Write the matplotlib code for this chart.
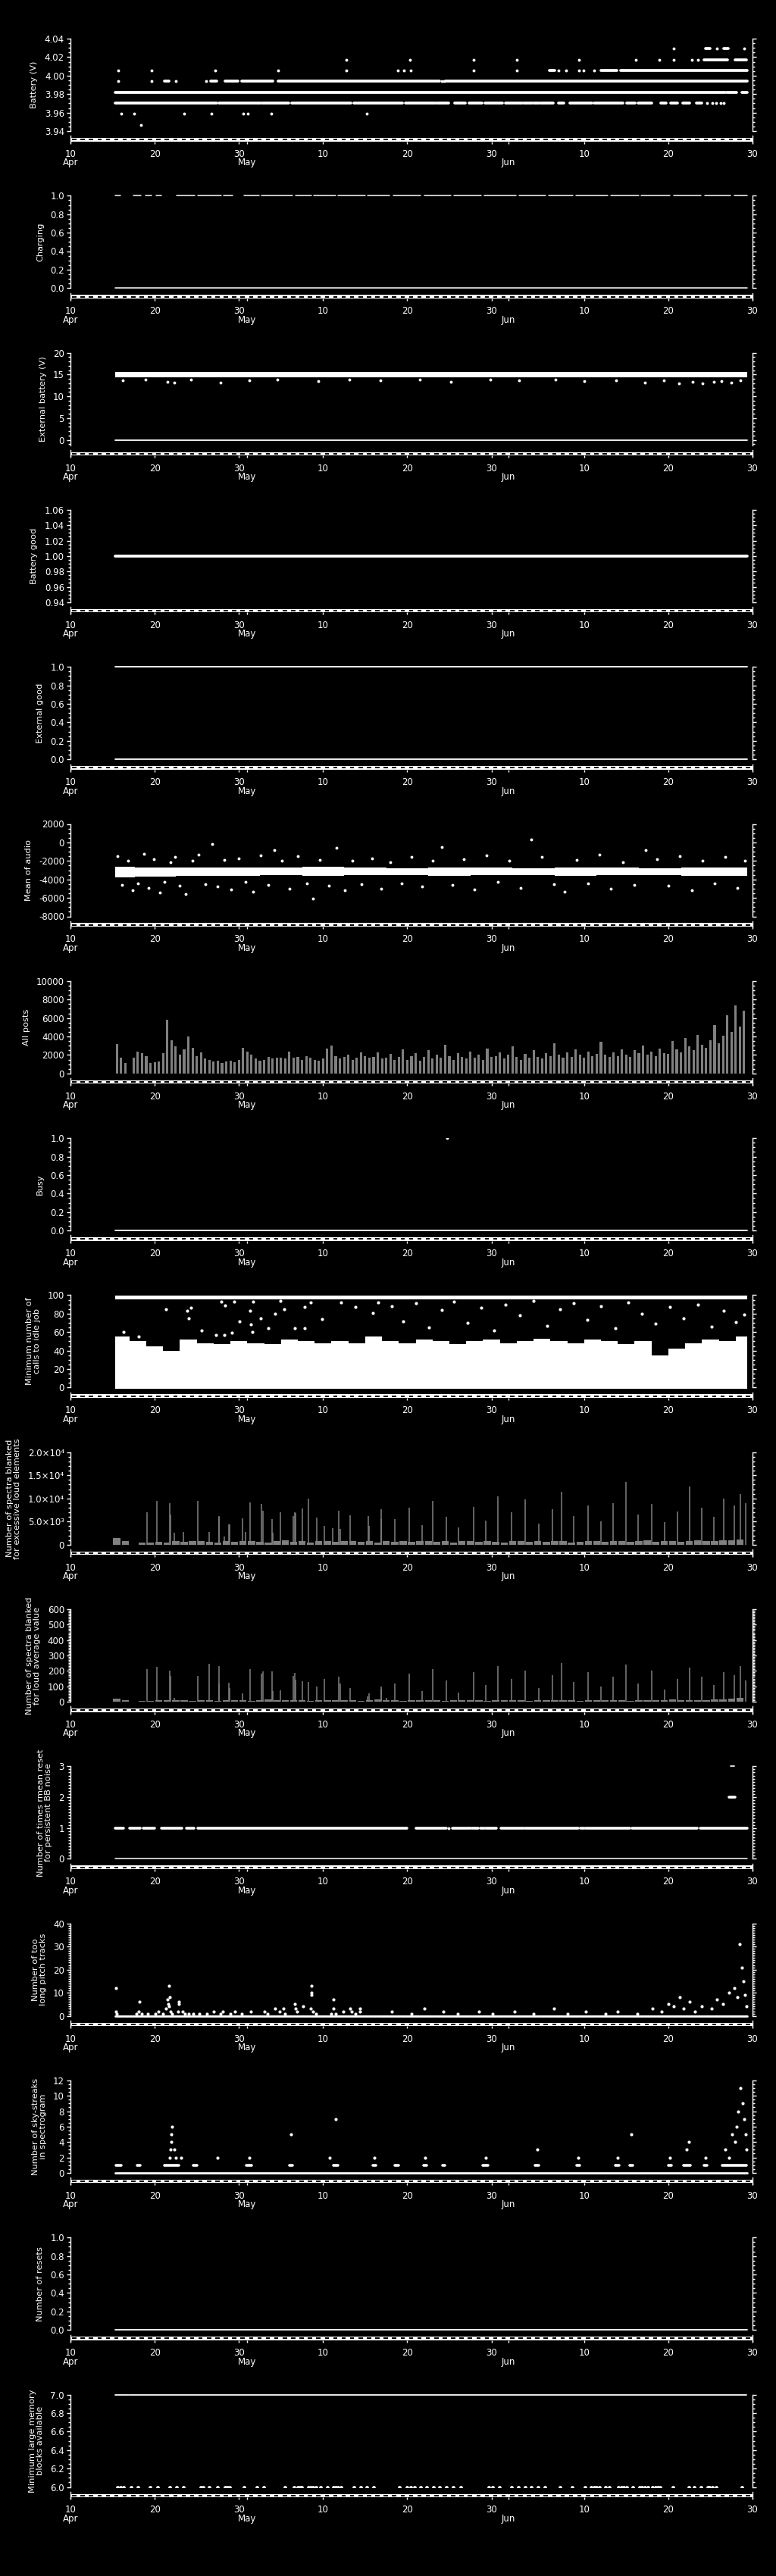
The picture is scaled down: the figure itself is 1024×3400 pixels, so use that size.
import matplotlib
matplotlib.use('Agg')
import matplotlib.pyplot as plt
import matplotlib.patches as patches
from matplotlib.ticker import AutoMinorLocator, FixedLocator, FixedFormatter, FormatStrFormatter

plt.rcParams['font.family'] = ['DejaVu Sans']

# time axis: days since 10 Apr (10 Apr .. 30 Jun)
date_ticks = [0, 10, 20, 21, 30, 40, 50, 52, 61, 71, 81]
date_labels = ['10', '20', '30', '', '10', '20', '30', '', '10', '20', '30']
month_days = [0, 21, 52]
month_names = ['Apr', 'May', 'Jun']
n_days = 81
data_span = [(5.28, 80.4)]

# ---- Battery (V): quantised levels, runs of samples and isolated samples
batt_3947_pts = [8.34]
batt_3959_pts = [6.03, 7.53, 13.47, 16.71, 20.52, 21.06, 23.82, 35.2]
batt_3970_runs = [(5.28, 17.37), (17.61, 22.59), (22.77, 25.92), (26.28, 33.33), (33.63, 39.45),
                  (39.81, 43.35), (43.59, 44.91), (45.66, 46.92), (47.37, 48.9), (49.2, 51.27),
                  (51.69, 53.61), (53.85, 54.84), (55.02, 55.71), (55.92, 57.36), (57.99, 58.62),
                  (59.31, 61.89), (62.16, 65.61), (66.06, 67.02), (67.41, 69.0), (70.11, 70.71),
                  (71.31, 72.12), (72.75, 73.5), (74.31, 75.0)]
batt_3970_pts = [75.6, 76.2, 76.7, 77.2, 77.6]
batt_3982_runs = [(5.28, 77.76), (77.9, 79.1), (79.7, 80.4)]
batt_3994_runs = [(11.19, 11.67), (16.62, 17.34), (18.33, 19.89), (20.37, 24.03), (24.63, 43.86),
                  (44.55, 80.4)]
batt_3994_pts = [5.7, 9.66, 12.48, 16.14, 44.07, 44.37]
batt_4006_runs = [(56.85, 57.51), (62.97, 64.9), (65.3, 80.4)]
batt_4006_pts = [5.64, 9.66, 17.22, 24.69, 32.79, 38.85, 39.6, 40.41, 47.91, 53.04, 57.93, 58.83,
                 60.36, 60.96, 62.16]
batt_4017_runs = [(75.21, 78.06), (78.96, 80.31)]
batt_4017_pts = [32.79, 40.35, 47.91, 52.98, 60.36, 67.17, 69.93, 71.67, 73.83, 74.49]
batt_4029_runs = [(75.45, 75.96), (77.61, 78.15)]
batt_4029_pts = [71.64, 76.74, 80.04]

# ---- Charging
charging_on = [(5.3, 5.9), (7.5, 8.4), (8.9, 9.6), (10.2, 10.8), (12.6, 14.8), (15.1, 17.9),
               (18.2, 19.3), (20.6, 22.4), (22.7, 26.4), (26.7, 28.6), (28.9, 31.5), (31.8, 35.0),
               (35.3, 37.9), (38.3, 41.6), (42.0, 45.2), (45.5, 48.8), (49.1, 52.9), (53.3, 56.4),
               (56.8, 59.7), (60.0, 63.8), (64.2, 67.5), (67.8, 71.2), (71.6, 74.9), (75.3, 78.4),
               (78.8, 80.4)]

# ---- External battery (V)
ext_band = (14.4, 15.6)
ext_low_days = [6.2, 8.9, 11.5, 12.3, 14.3, 17.8, 21.2, 24.6, 29.4, 33.1, 36.8, 41.5, 45.2, 49.9,
                53.3, 57.6, 61.0, 64.8, 68.2, 70.5, 72.3, 73.9, 75.1, 76.4, 77.3, 78.5, 79.6]
ext_low_vals = [13.6, 13.9, 13.4, 13.1, 13.8, 13.2, 13.7, 13.9, 13.5, 13.8, 13.6, 13.9, 13.4, 13.8,
                13.6, 13.9, 13.5, 13.7, 13.2, 13.6, 13.0, 13.4, 12.9, 13.3, 13.5, 13.1, 13.6]

# ---- Mean of audio
audio_band_days = [5.3, 10, 15, 20, 25, 30, 35, 40, 45, 50, 55, 60, 65, 70, 75, 80.4]
audio_band_lo = [-3800, -3700, -3600, -3600, -3500, -3600, -3500, -3500, -3600, -3500, -3500,
                 -3600, -3500, -3500, -3600, -3600]
audio_band_hi = [-2600, -2700, -2700, -2700, -2700, -2600, -2700, -2800, -2700, -2700, -2800,
                 -2700, -2700, -2800, -2700, -2700]
audio_out_days = [5.6, 6.1, 6.8, 7.4, 8.0, 8.7, 9.3, 9.9, 10.6, 11.2, 11.9, 12.4, 13.0, 13.7, 14.5,
                  15.2, 16.0, 16.8, 17.5, 18.3, 19.1, 20.0, 20.8, 21.7, 22.6, 23.5, 24.2, 25.1,
                  26.0, 27.0, 28.1, 28.8, 29.6, 30.7, 31.6, 32.6, 33.5, 34.6, 35.8, 36.9, 38.0,
                  39.3, 40.5, 41.8, 43.0, 44.1, 45.4, 46.7, 48.0, 49.4, 50.8, 52.1, 53.5, 54.7,
                  56.0, 57.4, 58.7, 60.1, 61.5, 62.8, 64.2, 65.6, 67.0, 68.3, 69.7, 71.0, 72.4,
                  73.8, 75.1, 76.5, 77.8, 79.2, 80.1]
audio_out_vals = [-1500, -4600, -2000, -5200, -4400, -1200, -4900, -1800, -5400, -4300, -2100,
                  -1600, -4700, -5600, -2000, -1300, -4500, -200, -4800, -1900, -5100, -1700,
                  -4300, -5300, -1400, -4600, -800, -2000, -5000, -1500, -4400, -6100, -1900,
                  -4700, -600, -5200, -2000, -4500, -1700, -5000, -2100, -4400, -1600, -4800,
                  -2000, -500, -4600, -1800, -5100, -1400, -4300, -2000, -4900, 300, -1600, -4500,
                  -5300, -1900, -4400, -1300, -5000, -2100, -4600, -800, -1800, -4700, -1500,
                  -5200, -2000, -4400, -1600, -4900, -2000]

# ---- All posts (half-day totals, first at 5.5 d)
posts_first = 5.5
posts = [3200, 1700, 1100, 0, 1700, 2400, 2200, 1900, 1100, 1200, 1300, 2200, 5800, 3600, 2900,
         2000, 2600, 4000, 2800, 1900, 2300, 1600, 1500, 1300, 1400, 1100, 1300, 1400, 1200, 1500,
         2800, 2400, 2000, 1600, 1400, 1500, 1800, 1600, 1700, 1700, 1600, 2400, 1700, 1800, 1500,
         1900, 1700, 1500, 1400, 1600, 2700, 3000, 1900, 1600, 1800, 2000, 1500, 1700, 2300, 1900,
         1700, 1800, 2300, 1600, 1700, 2100, 1500, 1800, 2600, 1500, 1900, 2200, 1400, 1800, 2500,
         1600, 2000, 1700, 3100, 1900, 1500, 2200, 1800, 1600, 2400, 1700, 2000, 1500, 2700, 1800,
         1900, 2300, 1600, 2000, 2900, 1800, 1500, 2100, 1700, 2500, 1800, 1600, 2200, 1900, 3300,
         2000, 1700, 2300, 1800, 2600, 2000, 1700, 2400, 1900, 2100, 3400, 2000, 1800, 2300, 1900,
         2600, 2000, 1800, 2500, 2200, 3000, 2000, 2400, 1900, 2700, 2200, 2100, 3500, 2600, 2300,
         3800, 2900, 2500, 4200, 3100, 2800, 3600, 5200, 3300, 4100, 6300, 4500, 7400, 5100, 6800]

# ---- Busy
busy_day, busy_val = 44.7, 1.0

# ---- Minimum number of calls to idle job
calls_edges = [5.3, 7, 9, 11, 13, 15, 17, 19, 21, 23, 25, 27, 29, 31, 33, 35, 37, 39, 41, 43, 45,
               47, 49, 51, 53, 55, 57, 59, 61, 63, 65, 67, 69, 71, 73, 75, 77, 79, 80.4]
calls_top = [55, 50, 45, 40, 52, 48, 47, 50, 48, 47, 52, 50, 48, 50, 48, 55, 50, 48, 52, 50, 47,
             50, 52, 48, 50, 53, 50, 48, 52, 50, 47, 50, 35, 42, 48, 52, 50, 55]
calls_band = (95.3, 99.5)
calls_out_days = [11.34, 13.9, 14.34, 14.07, 17.9, 18.33, 19.47, 20.07, 21.33, 21.39, 21.72, 22.62,
                  23.49, 24.33, 24.93, 25.35, 26.67, 27.78, 27.78, 28.53, 29.88, 32.13, 33.87,
                  35.88, 36.54, 21.6, 17.3, 18.3, 19.2, 15.6, 8.1, 6.3, 38.2, 39.5, 41.0, 42.6,
                  44.1, 45.5, 47.2, 48.8, 50.3, 51.7, 53.4, 55.0, 56.6, 58.1, 59.8, 61.4, 63.0,
                  64.7, 66.2, 67.9, 69.5, 71.2, 72.8, 74.5, 76.1, 77.6, 79.0, 80.0]
calls_out_vals = [85, 83, 86, 75, 93, 89, 93, 72, 83, 68, 93, 75, 64, 80, 94, 85, 64, 87, 64, 92,
                  74, 92, 87, 81, 92, 60, 57, 57, 59, 62, 55, 60, 88, 72, 91, 65, 84, 93, 70, 86,
                  62, 90, 78, 94, 67, 85, 91, 73, 88, 64, 92, 80, 69, 87, 75, 90, 66, 83, 71, 79]

# ---- Spectra blanked, excessive loud elements (daily background + spikes)
base_first = 5.5
loud_base = [1500, 700, 0, 500, 400, 600, 500, 700, 600, 700, 800, 600, 500, 700, 600, 800, 700,
             600, 500, 700, 900, 600, 700, 500, 800, 700, 600, 700, 800, 600, 700, 500, 800, 600,
             700, 600, 700, 800, 600, 700, 500, 700, 800, 600, 700, 600, 500, 700, 800, 600, 700,
             600, 800, 700, 500, 600, 800, 700, 600, 700, 800, 600, 700, 900, 600, 700, 800, 600,
             700, 900, 800, 700, 900, 1000, 1100]
loud_spike_days = [9.12, 10.29, 11.82, 11.91, 12.36, 13.44, 15.15, 16.5, 17.61, 17.67, 18.24,
                   18.84, 18.93, 20.43, 20.82, 21.36, 22.71, 22.83, 23.94, 24.03, 24.96, 26.49,
                   26.67, 26.73, 27.54, 28.26, 29.22, 30.15, 31.17, 31.89, 32.04, 33.24, 35.37,
                   35.46, 36.87, 36.93, 38.5, 40.2, 41.8, 43.0, 44.6, 46.1, 47.9, 49.3, 50.8, 52.4,
                   54.0, 55.6, 57.2, 58.3, 59.8, 61.5, 63.0, 64.4, 66.0, 67.4, 69.0, 70.6, 72.1,
                   73.5, 75.0, 76.4, 77.6, 78.8, 79.6, 80.2]
loud_spike_vals = [7000, 9400, 9000, 6500, 2500, 2800, 9400, 2800, 6200, 6000, 1800, 4400, 4400,
                   5700, 2700, 9200, 8800, 7400, 5500, 2500, 7000, 6200, 7000, 6800, 7800, 10000,
                   5800, 4000, 3500, 7400, 3400, 6300, 6200, 4100, 7700, 5500, 5500, 8000, 4200,
                   9500, 6000, 3800, 8200, 5200, 10500, 7000, 9800, 4500, 7600, 11500, 6200, 8500,
                   5000, 9000, 13500, 6500, 8800, 4800, 7200, 12500, 8000, 6000, 10000, 8500,
                   11000, 9000]

# ---- Spectra blanked, loud average value
avg_base = [20, 8, 0, 6, 5, 8, 10, 12, 8, 6, 10, 8, 6, 10, 12, 8, 6, 10, 14, 8, 12, 10, 8, 6, 10,
            8, 12, 10, 8, 6, 10, 14, 8, 10, 6, 12, 8, 10, 8, 6, 12, 10, 8, 10, 6, 8, 12, 10, 8, 6,
            10, 8, 12, 10, 8, 6, 10, 12, 8, 10, 8, 6, 12, 10, 8, 10, 14, 12, 10, 8, 12, 14, 16, 20,
            25]
avg_spike_days = [9.12, 10.29, 11.82, 11.91, 12.36, 15.15, 16.5, 17.61, 17.67, 18.84, 18.93, 20.43,
                  21.36, 22.71, 22.83, 23.94, 24.03, 24.96, 26.49, 26.67, 26.73, 27.54, 28.26,
                  29.22, 30.15, 31.89, 32.04, 33.24, 35.28, 35.46, 36.87, 36.93, 37.5, 38.5, 40.2,
                  41.8, 43.0, 44.6, 46.1, 47.9, 49.3, 50.8, 52.4, 54.0, 55.6, 57.2, 58.3, 59.8,
                  61.5, 63.0, 64.4, 66.0, 67.4, 69.0, 70.6, 72.1, 73.5, 75.0, 76.4, 77.6, 78.8,
                  79.6, 80.2]
avg_spike_vals = [210, 225, 200, 165, 25, 165, 245, 120, 230, 125, 90, 55, 210, 180, 195, 195, 70,
                  75, 165, 185, 145, 135, 130, 100, 150, 160, 120, 90, 35, 55, 85, 100, 25, 120,
                  180, 70, 210, 140, 60, 190, 110, 230, 150, 200, 90, 170, 250, 130, 190, 100,
                  160, 240, 120, 200, 80, 150, 220, 160, 110, 190, 170, 230, 140]

# ---- rmean reset
rmean_one_runs = [(5.28, 6.33), (7.0, 8.3), (8.6, 10.0), (10.8, 13.2), (13.8, 14.7), (15.1, 40.0),
                  (41.0, 44.6), (45.4, 47.5), (47.7, 48.4), (48.7, 49.1), (49.3, 50.6),
                  (51.1, 53.8), (54.0, 60.3), (60.6, 61.0), (61.2, 66.4), (66.7, 74.4),
                  (74.8, 80.4)]
rmean_one_pts = [44.9]
rmean_two_runs = [(78.2, 78.9)]
rmean_three_runs = [(78.4, 78.8)]

# ---- too long pitch tracks
pitch_days = [5.4, 5.4, 5.5, 7.8, 8.1, 8.2, 8.5, 9.2, 10.1, 10.4, 11.0, 11.3, 11.5, 11.7, 11.8,
              11.6, 11.7, 11.9, 12.1, 12.9, 12.9, 12.8, 13.3, 13.6, 14.0, 14.6, 15.3, 16.2, 17.0,
              17.8, 18.1, 19.0, 19.5, 20.3, 21.4, 23.0, 23.4, 24.3, 24.8, 25.3, 25.5, 26.6, 26.7,
              26.9, 27.6, 28.5, 28.6, 28.6, 28.6, 28.8, 29.2, 31.0, 31.2, 31.2, 31.5, 32.4, 33.2,
              33.4, 33.8, 34.4, 34.4, 38.2, 40.5, 42.0, 44.3, 46.0, 48.5, 50.1, 52.7, 55.0, 57.4,
              59.0, 61.2, 63.5, 65.0, 67.3, 69.1, 70.2, 71.0, 71.6, 72.4, 72.8, 73.5, 74.2, 75.0,
              76.1, 76.8, 77.5, 78.2, 78.8, 79.2, 79.5, 79.7, 79.9, 80.1, 80.3]
pitch_vals = [12, 2, 1, 1, 2, 6, 1, 1, 1, 2, 1, 3, 7, 13, 8, 5, 4, 2, 1, 6, 5, 2, 2, 1, 1, 1, 1,
              1, 2, 1, 2, 1, 2, 1, 2, 2, 1, 3, 2, 3, 1, 5, 3, 2, 4, 3, 13, 10, 9, 2, 1, 1, 7, 3, 1,
              2, 3, 2, 1, 3, 2, 2, 1, 3, 2, 1, 2, 1, 2, 1, 3, 1, 2, 1, 2, 1, 3, 2, 5, 4, 8, 3, 6,
              2, 4, 3, 7, 5, 10, 12, 8, 31, 21, 15, 9, 4]

# ---- sky-streaks
sky_one_runs = [(5.4, 6.0), (7.9, 8.3), (11.2, 12.9), (14.6, 15.0), (20.9, 21.5), (26.0, 26.4),
                (31.2, 31.8), (35.9, 36.3), (38.5, 39.0), (41.9, 42.3), (44.2, 44.5),
                (49.0, 49.6), (55.2, 55.6), (60.1, 60.5), (64.7, 65.2), (66.4, 66.8),
                (71.0, 71.4), (72.8, 73.6), (75.2, 75.6), (77.4, 80.3)]
sky_days = [11.8, 11.9, 12.0, 12.0, 12.1, 12.3, 12.5, 13.1, 17.5, 21.2, 26.2, 31.5, 30.8, 36.1,
            42.1, 49.3, 55.4, 60.3, 65.0, 66.6, 71.2, 73.2, 73.4, 75.4, 77.8, 78.2, 78.6, 78.9,
            79.1, 79.3, 79.6, 79.8, 80.0, 80.2, 80.3]
sky_vals = [2, 3, 4, 5, 6, 3, 2, 2, 2, 2, 5, 7, 2, 2, 2, 2, 3, 2, 2, 5, 2, 3, 4, 2, 3, 2, 5, 4, 6,
            8, 11, 9, 7, 5, 3]

# ---- memory blocks
mem_high_runs = [(5.28, 6.9), (7.0, 80.3)]
mem_low_days = [5.6, 5.9, 6.3, 7.23, 7.98, 9.48, 10.38, 11.79, 12.57, 13.38, 15.48, 15.78, 16.47,
                17.43, 18.33, 18.6, 18.87, 20.58, 22.17, 22.92, 25.47, 26.58, 27.03, 27.25, 27.48,
                28.23, 28.5, 28.8, 29.13, 29.73, 30.54, 31.23, 31.5, 31.8, 32.13, 33.63, 34.44,
                35.22, 36.03, 39.1, 39.96, 40.4, 40.86, 41.55, 42.27, 43.11, 43.86, 44.67, 45.42,
                46.32, 49.71, 50.1, 50.91, 52.41, 53.16, 54.0, 54.75, 55.56, 56.37, 58.11, 59.55,
                61.11, 61.86, 62.2, 62.5, 62.85, 63.57, 63.96, 65.07, 65.4, 65.7, 66.06, 66.75,
                67.56, 67.9, 68.25, 68.61, 69.15, 69.45, 69.75, 70.05, 71.55, 73.41, 74.1, 74.85,
                75.66, 75.9, 76.2, 76.65, 79.71]

W, H = 1024, 3400
fig = plt.figure(figsize=(W / 100, H / 100), dpi=100, facecolor='black')


def make_panel(i, label, ylim, ticks, nminor, fmt):
    top = 51 + 207.3 * i
    ax = fig.add_axes([93 / W, 1 - (top + 122) / H, 900 / W, 122 / H], facecolor='black')
    ax.set_xlim(0, n_days)
    ax.set_ylim(*ylim)
    for s in ['top', 'bottom']:
        ax.spines[s].set_visible(False)
    for s in ['left', 'right']:
        ax.spines[s].set_color('white')
        ax.spines[s].set_linewidth(1.0)
    ax.set_xticks([])
    ax.yaxis.set_major_locator(FixedLocator(ticks))
    ax.yaxis.set_minor_locator(AutoMinorLocator(nminor))
    if isinstance(fmt, list):
        ax.yaxis.set_major_formatter(FixedFormatter(fmt))
    else:
        ax.yaxis.set_major_formatter(FormatStrFormatter(fmt))
    ax.tick_params(axis='y', which='both', direction='out', colors='white', width=1,
                   left=True, right=True, labelright=False, labelsize=8.5, pad=2)
    ax.tick_params(axis='y', which='major', length=3.8)
    ax.tick_params(axis='y', which='minor', length=2.0)
    ax.set_ylabel(label, color='white', fontsize=8.2, labelpad=6, linespacing=1.0)

    # day/night date bar under each panel
    bx = fig.add_axes([93 / W, 1 - (top + 135.5) / H, 900 / W, 4.5 / H], facecolor='black')
    bx.set_xlim(0, n_days)
    bx.set_ylim(0, 1)
    bx.add_patch(patches.Rectangle((0, 0), n_days, 1, color='white', lw=0))
    for k in range(n_days):
        bx.add_patch(patches.Rectangle((k + 0.2, 0.28), 0.5, 0.44, color='black', lw=0))
    for s in bx.spines.values():
        s.set_visible(False)
    bx.set_yticks([])
    bx.set_xticks(date_ticks)
    bx.set_xticklabels(date_labels)
    bx.tick_params(axis='x', direction='out', length=2.5, width=1, colors='white',
                   labelsize=8.5, pad=5)
    for d, name in zip(month_days, month_names):
        bx.annotate(name, xy=(d, 0), xycoords=('data', 'axes fraction'), xytext=(0, -20.5),
                    textcoords='offset points', ha='center', va='center', color='white',
                    fontsize=8.5)
    bx.plot([0, 0], [-0.3, 1.6], color='white', lw=1, clip_on=False)
    bx.plot([n_days, n_days], [-0.3, 1.6], color='white', lw=1, clip_on=False)
    return ax


def hruns(ax, level, runs, lw=2.7, clip=True):
    for a, b in runs:
        ax.plot([a, b], [level, level], color='white', lw=lw, solid_capstyle='round',
                clip_on=clip)


def dots(ax, days, vals, ms=2.8):
    ax.plot(days, vals, 'o', color='white', ms=ms, mew=0, ls='none')


# 1 Battery
ax = make_panel(0, 'Battery (V)', (3.94, 4.04), [3.94, 3.96, 3.98, 4.00, 4.02, 4.04], 4, '%.2f')
dots(ax, batt_3947_pts, [3.9468] * len(batt_3947_pts))
dots(ax, batt_3959_pts, [3.9585] * len(batt_3959_pts))
hruns(ax, 3.9703, batt_3970_runs)
dots(ax, batt_3970_pts, [3.9703] * len(batt_3970_pts))
hruns(ax, 3.9820, batt_3982_runs)
hruns(ax, 3.9938, batt_3994_runs)
dots(ax, batt_3994_pts, [3.9938] * len(batt_3994_pts))
hruns(ax, 4.0055, batt_4006_runs)
dots(ax, batt_4006_pts, [4.0055] * len(batt_4006_pts))
hruns(ax, 4.0173, batt_4017_runs)
dots(ax, batt_4017_pts, [4.0173] * len(batt_4017_pts))
hruns(ax, 4.0290, batt_4029_runs)
dots(ax, batt_4029_pts, [4.0290] * len(batt_4029_pts))

# 2 Charging
ax = make_panel(1, 'Charging', (0, 1), [0, 0.2, 0.4, 0.6, 0.8, 1.0], 4, '%.1f')
hruns(ax, 0.0, data_span, lw=1.1, clip=False)
hruns(ax, 1.0, charging_on, lw=1.1, clip=False)

# 3 External battery
ax = make_panel(2, 'External battery (V)', (-1.2, 20), [0, 5, 10, 15, 20], 5, '%d')
ax.fill_between([data_span[0][0], data_span[0][1]], ext_band[0], ext_band[1], color='white', lw=0)
dots(ax, ext_low_days, ext_low_vals)
hruns(ax, 0.0, data_span, lw=1.3)

# 4 Battery good
ax = make_panel(3, 'Battery good', (0.94, 1.06), [0.94, 0.96, 0.98, 1.00, 1.02, 1.04, 1.06], 4,
                '%.2f')
hruns(ax, 1.0, data_span, lw=2.7)

# 5 External good
ax = make_panel(4, 'External good', (0, 1), [0, 0.2, 0.4, 0.6, 0.8, 1.0], 4, '%.1f')
hruns(ax, 1.0, data_span, lw=1.3, clip=False)
hruns(ax, 0.0, data_span, lw=1.3, clip=False)

# 6 Mean of audio
ax = make_panel(5, 'Mean of audio', (-8000, 2000), [-8000, -6000, -4000, -2000, 0, 2000], 4, '%d')
ax.fill_between(audio_band_days, audio_band_lo, audio_band_hi, step='mid', color='white', lw=0)
dots(ax, audio_out_days, audio_out_vals)

# 7 All posts
ax = make_panel(6, 'All posts', (0, 10000), [0, 2000, 4000, 6000, 8000, 10000], 4, '%d')
ax.bar([posts_first + 0.5 * k for k in range(len(posts))], posts, width=0.28, color='0.5', lw=0)

# 8 Busy
ax = make_panel(7, 'Busy', (0, 1), [0, 0.2, 0.4, 0.6, 0.8, 1.0], 4, '%.1f')
hruns(ax, 0.0, data_span, lw=1.3, clip=False)
dots(ax, [busy_day], [busy_val])

# 9 Minimum number of calls to idle job
ax = make_panel(8, 'Minimum number of\ncalls to idle job', (0, 100), [0, 20, 40, 60, 80, 100], 4,
                '%d')
ax.fill_between(calls_edges, -1.5, calls_top + [calls_top[-1]], step='post', color='white', lw=0,
                clip_on=False)
ax.fill_between([data_span[0][0], data_span[0][1]], calls_band[0], calls_band[1], color='white',
                lw=0)
dots(ax, calls_out_days, calls_out_vals, ms=3.0)

# 10 Spectra blanked, excessive loud elements
ax = make_panel(9, 'Number of spectra blanked\nfor excessive loud elements', (0, 20000),
                [0, 5000, 10000, 15000, 20000], 5,
                ['0', '5.0×10³', '1.0×10⁴', '1.5×10⁴', '2.0×10⁴'])
ax.bar([base_first + k for k in range(len(loud_base))], loud_base, width=0.85, color='0.5', lw=0)
ax.vlines(loud_spike_days, 0, loud_spike_vals, color='0.5', lw=1.1)

# 11 Spectra blanked, loud average value
ax = make_panel(10, 'Number of spectra blanked\nfor loud average value', (0, 600),
                [0, 100, 200, 300, 400, 500, 600], 10, '%d')
ax.bar([base_first + k for k in range(len(avg_base))], avg_base, width=0.85, color='0.5', lw=0)
ax.vlines(avg_spike_days, 0, avg_spike_vals, color='0.5', lw=1.1)

# 12 rmean reset
ax = make_panel(11, 'Number of times rmean reset\nfor persistent BB noise', (0, 3), [0, 1, 2, 3],
                10, '%d')
hruns(ax, 0.0, data_span, lw=1.1, clip=False)
hruns(ax, 1.0, rmean_one_runs, lw=2.6)
dots(ax, rmean_one_pts, [1.0] * len(rmean_one_pts))
hruns(ax, 2.0, rmean_two_runs, lw=2.6)
hruns(ax, 3.0, rmean_three_runs, lw=1.2, clip=False)

# 13 too long pitch tracks
ax = make_panel(12, 'Number of too\nlong pitch tracks', (0, 40), [0, 10, 20, 30, 40], 10, '%d')
hruns(ax, 0.0, data_span, lw=2.0, clip=False)
dots(ax, pitch_days, pitch_vals, ms=3.0)

# 14 sky-streaks
ax = make_panel(13, 'Number of sky-streaks\nin spectrogram', (0, 12), [0, 2, 4, 6, 8, 10, 12], 4,
                '%d')
hruns(ax, 0.0, data_span, lw=2.0, clip=False)
hruns(ax, 1.0, sky_one_runs, lw=2.6)
dots(ax, sky_days, sky_vals, ms=3.0)

# 15 resets
ax = make_panel(14, 'Number of resets', (0, 1), [0, 0.2, 0.4, 0.6, 0.8, 1.0], 4, '%.1f')
hruns(ax, 0.0, data_span, lw=1.3, clip=False)

# 16 memory blocks
ax = make_panel(15, 'Minimum large memory\nblocks available', (6.0, 7.0),
                [6.0, 6.2, 6.4, 6.6, 6.8, 7.0], 4, '%.1f')
hruns(ax, 7.0, mem_high_runs, lw=1.3, clip=False)
dots(ax, mem_low_days, [6.0] * len(mem_low_days), ms=3.4)

fig.savefig('out.png', dpi=100, facecolor='black')
